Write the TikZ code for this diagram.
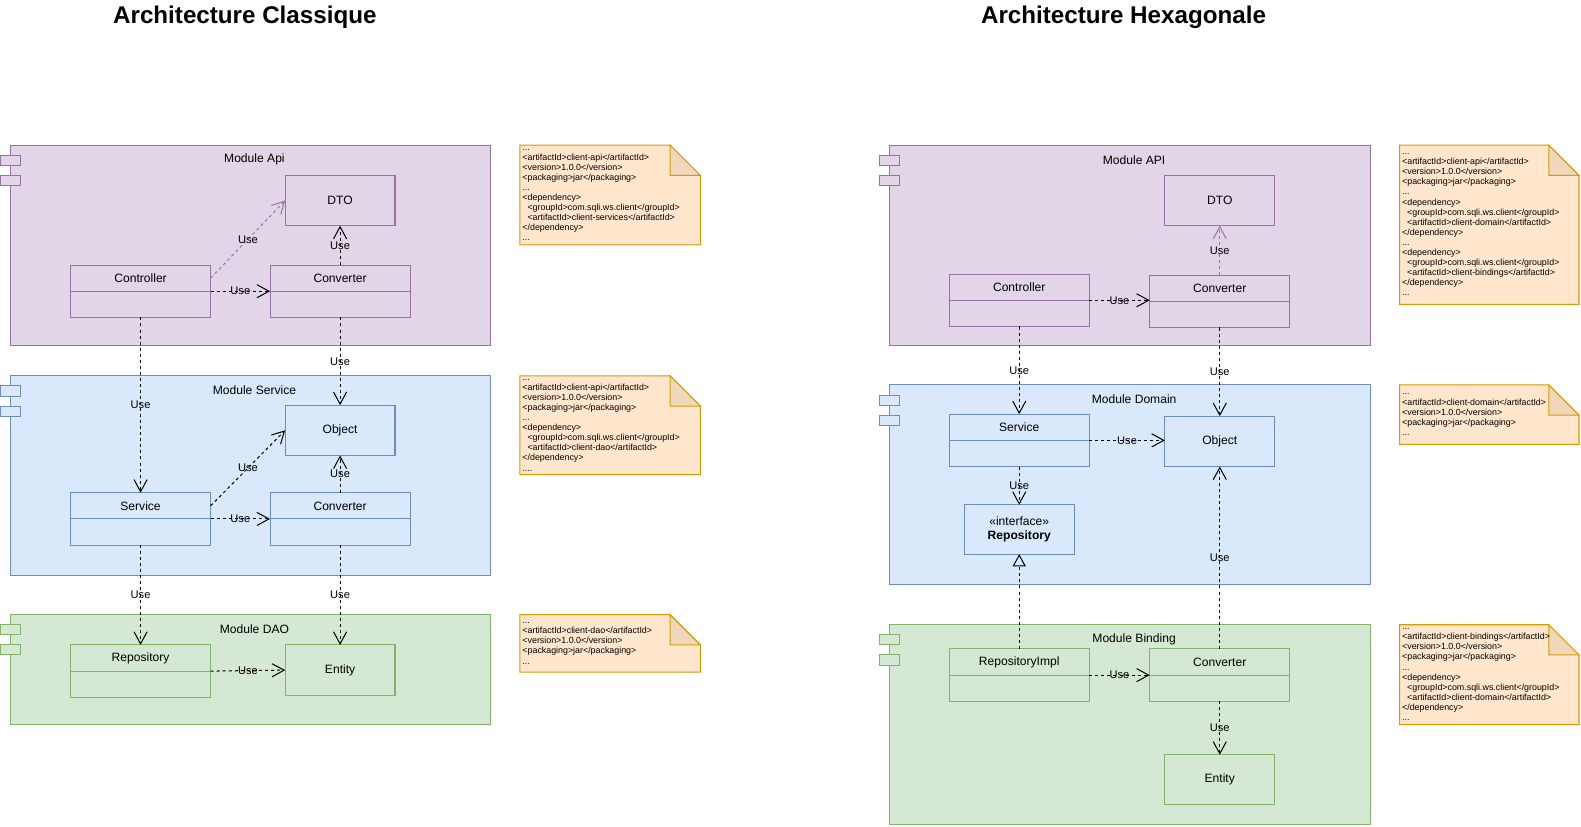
\documentclass[tikz,border=0pt]{standalone}
\usepackage{fontspec}
\setmainfont{Liberation Sans}
\usepackage{tikz}
\usetikzlibrary{positioning,calc,arrows.meta}
\definecolor{apifill}{HTML}{E1D5E7}
\definecolor{apiline}{HTML}{9673A6}
\definecolor{domfill}{HTML}{DAE8FC}
\definecolor{domline}{HTML}{6C8EBF}
\definecolor{daofill}{HTML}{D5E8D4}
\definecolor{daoline}{HTML}{82B366}
\definecolor{notefill}{HTML}{FFE6CC}
\definecolor{noteline}{HTML}{D79B00}
\definecolor{foldfill}{HTML}{F0D7BC}
\def\ModW{477pt}
\def\ClassW{139pt}
\def\HeadH{26pt}
\def\BoxW{109pt}
\def\BoxH{50pt}
% module frame with its two tabs and its label
\newcommand{\umlmodule}[6]{%
	\node[module=#4,#5] (#1) at (#2,#3) {};
	\foreach \t in {15,35}
		\node[tab,#5] (#1t\t) at ($(#1.north west)+(0,-\t)$) {};
	\node[modlabel] (#1l) at ($(#1.north)+(4,-14.5)$) {#6};}
% class with name part and empty body part
\newcommand{\umlclass}[5]{%
	\node[classhead,#5] (#1) at (#2,#3) {#4};
	\node[classbody,#5,below=0pt of #1] (#1b) {};}
% pom.xml note with folded corner
\newcommand{\pomnote}[6]{%
	\draw[pomnote] (#2,#3) -- ++(#4-30,0) -- ++(30,-30) -- ++(0,30-#5) -- ++(-#4,0) -- cycle;
	\draw[pomfold] (#2+#4-30,#3) -- ++(0,-30) -- ++(30,0) -- cycle;
	\node[pomtext] (#1) at (#2+2,#3-#5/2) {#6};}
\def\ind{\hspace*{5pt}}

\begin{document}
\begin{tikzpicture}[x=1pt,y=1pt,line width=1pt,
	title/.style={font=\fontsize{24}{28}\selectfont\bfseries,inner sep=0pt},
	module/.style={draw,anchor=north west,minimum width=\ModW,minimum height=#1,inner sep=0pt,outer sep=0pt},
	modlabel/.style={font=\fontsize{12}{14}\selectfont,inner sep=0pt},
	tab/.style={draw,minimum width=20pt,minimum height=10pt,inner sep=0pt},
	apistyle/.style={fill=apifill,draw=apiline},
	domstyle/.style={fill=domfill,draw=domline},
	daostyle/.style={fill=daofill,draw=daoline},
	classhead/.style={draw,anchor=north west,minimum width=\ClassW,minimum height=\HeadH,inner sep=0pt,outer sep=0pt,font=\fontsize{12}{14}\selectfont},
	classbody/.style={draw,minimum width=\ClassW,minimum height=\HeadH,inner sep=0pt,outer sep=0pt},
	plainbox/.style={draw,anchor=north west,minimum width=\BoxW,minimum height=\BoxH,inner sep=0pt,outer sep=0pt,font=\fontsize{12}{14}\selectfont,align=center},
	useedge/.style={dash pattern=on 3pt off 3pt,-{Straight Barb[length=12pt,width=13pt]}},
	realize/.style={dash pattern=on 3pt off 3pt,-{Triangle[open,length=12pt,width=13pt]}},
	uselabel/.style={midway,font=\fontsize{11}{13}\selectfont,inner sep=0pt,text=black},
	pomnote/.style={draw=noteline,fill=notefill},
	pomfold/.style={draw=noteline,fill=foldfill},
	pomtext/.style={anchor=west,align=left,inner sep=0pt,font=\fontsize{8.8}{10}\selectfont}]
	\useasboundingbox (0,0) rectangle (1569,-820);
	% titles
	\node[title] (titleA) at (243,-17.5) {Architecture Classique};
	\node[title] (titleB) at (1115,-17.5) {Architecture Hexagonale};
	% classic architecture
	\umlmodule{modApiA}{10}{-144}{199pt}{apistyle}{Module Api}
	\umlmodule{modSrvA}{10}{-373}{198pt}{domstyle}{Module Service}
	\umlmodule{modDaoA}{10}{-610}{109pt}{daostyle}{Module DAO}
	\node[plainbox,apistyle] (dtoA) at (283,-174) {DTO};
	\umlclass{ctrlA}{70}{-263}{Controller}{apistyle}
	\umlclass{convA}{268}{-263}{Converter}{apistyle}
	\node[plainbox,domstyle] (objA) at (283,-402) {Object};
	\umlclass{srvA}{70}{-489}{Service}{domstyle}
	\umlclass{convSA}{268}{-489}{Converter}{domstyle}
	\umlclass{repoA}{70}{-640}{Repository}{daostyle}
	\node[plainbox,daostyle] (entA) at (283,-640) {Entity};
	% 
	\draw[useedge,draw=apiline] (ctrlA.east) -- node[uselabel] {Use} (dtoA.west);
	\draw[useedge] (ctrlA.south east) -- node[uselabel] {Use} (convA.south west);
	\draw[useedge] (convA.north) -- node[uselabel] {Use} (dtoA.south);
	\draw[useedge] (ctrlAb.south) -- node[uselabel] {Use} (srvA.north);
	\draw[useedge] (convAb.south) -- node[uselabel] {Use} (objA.north);
	\draw[useedge] (srvA.east) -- node[uselabel] {Use} (objA.west);
	\draw[useedge] (srvA.south east) -- node[uselabel] {Use} (convSA.south west);
	\draw[useedge] (convSA.north) -- node[uselabel] {Use} (objA.south);
	\draw[useedge] (srvAb.south) -- node[uselabel] {Use} (repoA.north);
	\draw[useedge] (convSAb.south) -- node[uselabel] {Use} (entA.north);
	\draw[useedge] (repoA.south east) -- node[uselabel] {Use} (entA.west);
	% 
	\pomnote{noteApiA}{516}{-144}{179}{99}{...\\<artifactId>client-api</artifactId>\\<version>1.0.0</version>\\<packaging>jar</packaging>\\...\\<dependency>\\\ind<groupId>com.sqli.ws.client</groupId>\\\ind<artifactId>client-services</artifactId>\\</dependency>\\...}
	\pomnote{noteSrvA}{516}{-373}{179}{98}{...\\<artifactId>client-api</artifactId>\\<version>1.0.0</version>\\<packaging>jar</packaging>\\...\\<dependency>\\\ind<groupId>com.sqli.ws.client</groupId>\\\ind<artifactId>client-dao</artifactId>\\</dependency>\\....}
	\pomnote{noteDaoA}{516}{-610}{179}{57}{...\\<artifactId>client-dao</artifactId>\\<version>1.0.0</version>\\<packaging>jar</packaging>\\...}
	% hexagonal architecture
	\umlmodule{modApiB}{883}{-144}{199pt}{apistyle}{Module API}
	\umlmodule{modDomB}{883}{-382}{198pt}{domstyle}{Module Domain}
	\umlmodule{modBndB}{883}{-620}{198pt}{daostyle}{Module Binding}
	\node[plainbox,apistyle] (dtoB) at (1156,-174) {DTO};
	\umlclass{ctrlB}{942}{-272}{Controller}{apistyle}
	\umlclass{convB}{1141}{-273}{Converter}{apistyle}
	\umlclass{srvB}{942}{-411}{Service}{domstyle}
	\node[plainbox,domstyle] (objB) at (1156,-413) {Object};
	\node[plainbox,domstyle,minimum height=49pt,font=\fontsize{12}{14}\selectfont] (repoB) at (957,-501) {«interface»\\\textbf{Repository}};
	\umlclass{rimplB}{942}{-644}{RepositoryImpl}{daostyle}
	\umlclass{convBB}{1141}{-644}{Converter}{daostyle}
	\node[plainbox,daostyle,minimum height=49pt] (entB) at (1156,-749) {Entity};
	% 
	\draw[useedge] (ctrlB.south east) -- node[uselabel] {Use} (convB.west|-ctrlB.south east);
	\draw[useedge,draw=apiline] (convB.north) -- node[uselabel] {Use} (dtoB.south);
	\draw[useedge] (ctrlBb.south) -- node[uselabel] {Use} (srvB.north);
	\draw[useedge] (convBb.south) -- node[uselabel] {Use} (objB.north);
	\draw[useedge] (srvB.south east) -- node[uselabel] {Use} (objB.west|-srvB.south east);
	\draw[useedge] (srvBb.south) -- node[uselabel] {Use} (repoB.north);
	\draw[realize] (rimplB.north) -- (repoB.south);
	\draw[useedge] (convBB.north) -- node[uselabel] {Use} (objB.south);
	\draw[useedge] (rimplB.south east) -- node[uselabel] {Use} (convBB.south west);
	\draw[useedge] (convBBb.south) -- node[uselabel] {Use} (entB.north);
	% 
	\pomnote{noteApiB}{1389}{-144}{178}{158}{...\\<artifactId>client-api</artifactId>\\<version>1.0.0</version>\\<packaging>jar</packaging>\\...\\<dependency>\\\ind<groupId>com.sqli.ws.client</groupId>\\\ind<artifactId>client-domain</artifactId>\\</dependency>\\...\\<dependency>\\\ind<groupId>com.sqli.ws.client</groupId>\\\ind<artifactId>client-bindings</artifactId>\\</dependency>\\...}
	\pomnote{noteDomB}{1389}{-382}{178}{59}{...\\<artifactId>client-domain</artifactId>\\<version>1.0.0</version>\\<packaging>jar</packaging>\\...}
	\pomnote{noteBndB}{1389}{-620}{178}{99}{...\\<artifactId>client-bindings</artifactId>\\<version>1.0.0</version>\\<packaging>jar</packaging>\\...\\<dependency>\\\ind<groupId>com.sqli.ws.client</groupId>\\\ind<artifactId>client-domain</artifactId>\\</dependency>\\...}
\end{tikzpicture}
\end{document}
